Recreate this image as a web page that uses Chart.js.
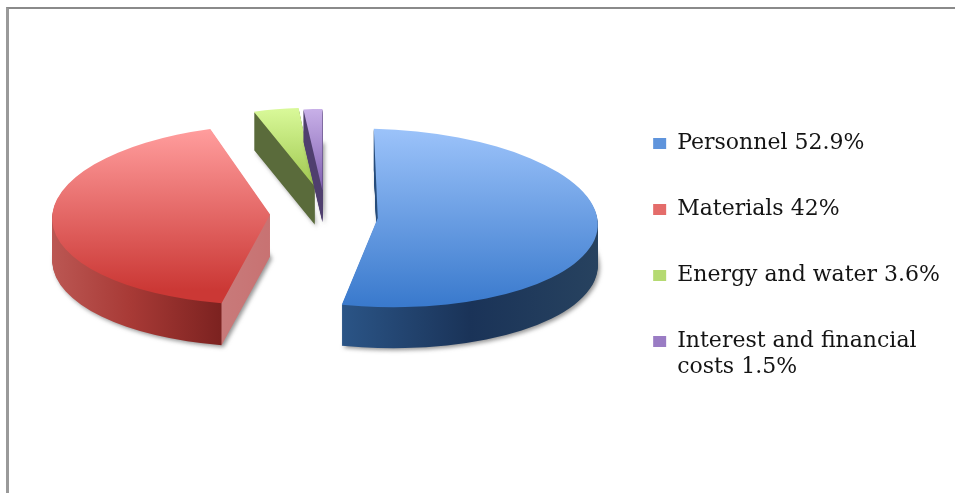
<!DOCTYPE html>
<html>
<head>
<meta charset="utf-8">
<script src="https://cdn.jsdelivr.net/npm/chart.js@4"></script>
<style>
  html, body { margin: 0; background: #fff; overflow: hidden; }
  #frame { position: absolute; left: 6px; top: 7px; right: 0; bottom: 0; border-top: 2px solid #8a8a8a; border-left: 3px solid #9a9a9a; }
  #wrap { position: absolute; left: 0; top: 0; width: 955px; height: 493px; }
</style>
</head>
<body>
<div id="frame"></div>
<div id="wrap"><canvas id="chart1" width="955" height="493"></canvas></div>
<script>
// Data
const labels = [['Personnel 52.9%'], ['Materials 42%'], ['Energy and water 3.6%'], ['Interest and financial', 'costs 1.5%']]
const shares = [52.9, 42, 3.6, 1.5]

// Colours
const legend_colors = ['#5f94dc', '#e46c6a', '#b5da72', '#9a7cc4']
const top_colors = [
    [128, '#9cc3fa', 305, '#3a7acd'],
    [131, '#ff9c9c', 290, '#cb3835'],
    [110, '#d8f898', 185, '#a0c850'],
    [109, '#c8b0e8', 190, '#8060b0'],
]
const side_colors = [
    [[340, '#2b5587'], [470, '#1a3358'], [597, '#27425f']],
    [[52, '#bb5753'], [130, '#a83a36'], [221, '#7c2220'], [222, '#c87a7a'], [272, '#c87272']],
    [[250, '#5a6b3b'], [320, '#5a6b3b']],
    [[300, '#4f3f6e'], [325, '#4f3f6e']],
]

// Look of the 3d pie, the reference has perspective so every slice gets its own tilt
const explode = 54
const center_x = 324
const center_y = 213
const tilts = [   // x from x, x from y, y from x, y from y
    [1, 0.018, 0.022, 0.405],
    [0.99, -0.042, 0, 0.41],
    [0.92, -0.013, 0, 0.36],
    [0.92, 0, 0, 0.37],
]
const nudges = [[0, 3], [0, 0], [2, -5], [1, -1]]
const depths = [41, 42, 38, 32]

const pie3d = {
    id: 'pie3d',
    beforeDatasetsDraw(chart) {
        const ctx = chart.ctx
        chart.getDatasetMeta(0).data.forEach((arc, i) => {
            const mid = (arc.startAngle + arc.endAngle) / 2
            const [xx, xy, yx, yy] = tilts[i]
            const ox = center_x + Math.cos(mid) * explode + nudges[i][0]
            const oy = center_y + Math.sin(mid) * explode * 0.4 + nudges[i][1]
            const base = arc.options

            const place = dy => {
                ctx.translate(ox, oy + dy)
                ctx.transform(xx, yx, xy, yy, 0, 0)
                ctx.translate(-arc.x, -arc.y)
            }

            // gradient that runs along the screen x or y, whatever the tilt is
            const gradient = (u, v, s0, s1) => {
                const n = u * u + v * v
                return ctx.createLinearGradient(
                    arc.x + s0 * u / n, arc.y + s0 * v / n,
                    arc.x + s1 * u / n, arc.y + s1 * v / n)
            }

            const side = side_colors[i]
            const first = side[0][0]
            const last = side[side.length - 1][0]
            const side_grad = gradient(xx, xy, first - ox, last - ox)
            side.forEach(s => side_grad.addColorStop((s[0] - first) / (last - first), s[1]))

            for (let d = depths[i]; d > 0; d--) {
                ctx.save()
                place(d)
                if (d == depths[i]) {
                    ctx.shadowColor = 'rgba(60,60,60,0.55)'
                    ctx.shadowBlur = 4
                    ctx.shadowOffsetX = 2
                    ctx.shadowOffsetY = 2
                }
                arc.options = Object.assign({}, base, { backgroundColor: side_grad })
                arc.draw(ctx)
                ctx.restore()
            }

            const t = top_colors[i]
            const top_grad = gradient(yx, yy, t[0] - oy, t[2] - oy)
            top_grad.addColorStop(0, t[1])
            top_grad.addColorStop(1, t[3])
            ctx.save()
            place(0)
            arc.options = Object.assign({}, base, { backgroundColor: top_grad })
            arc.draw(ctx)
            ctx.restore()
            arc.options = base
        })
        return false
    }
}

const config = {
    type: 'pie',
    data: {
        labels: labels,
        datasets: [{
            data: shares,
            backgroundColor: legend_colors,
            borderWidth: 0,
            radius: 220
        }]
    },
    options: {
        responsive: false,
        animation: false,
        events: [],
        layout: { padding: { right: 5, top: 22 } },
        plugins: {
            tooltip: { enabled: false },
            legend: {
                position: 'right',
                labels: {
                    color: '#141414',
                    font: { family: 'DejaVu Serif', size: 22, lineHeight: 1.18 },
                    boxWidth: 13,
                    boxHeight: 11,
                    padding: 40
                }
            }
        }
    },
    plugins: [pie3d]
}

new Chart(document.getElementById('chart1'), config)
</script>
</body>
</html>
